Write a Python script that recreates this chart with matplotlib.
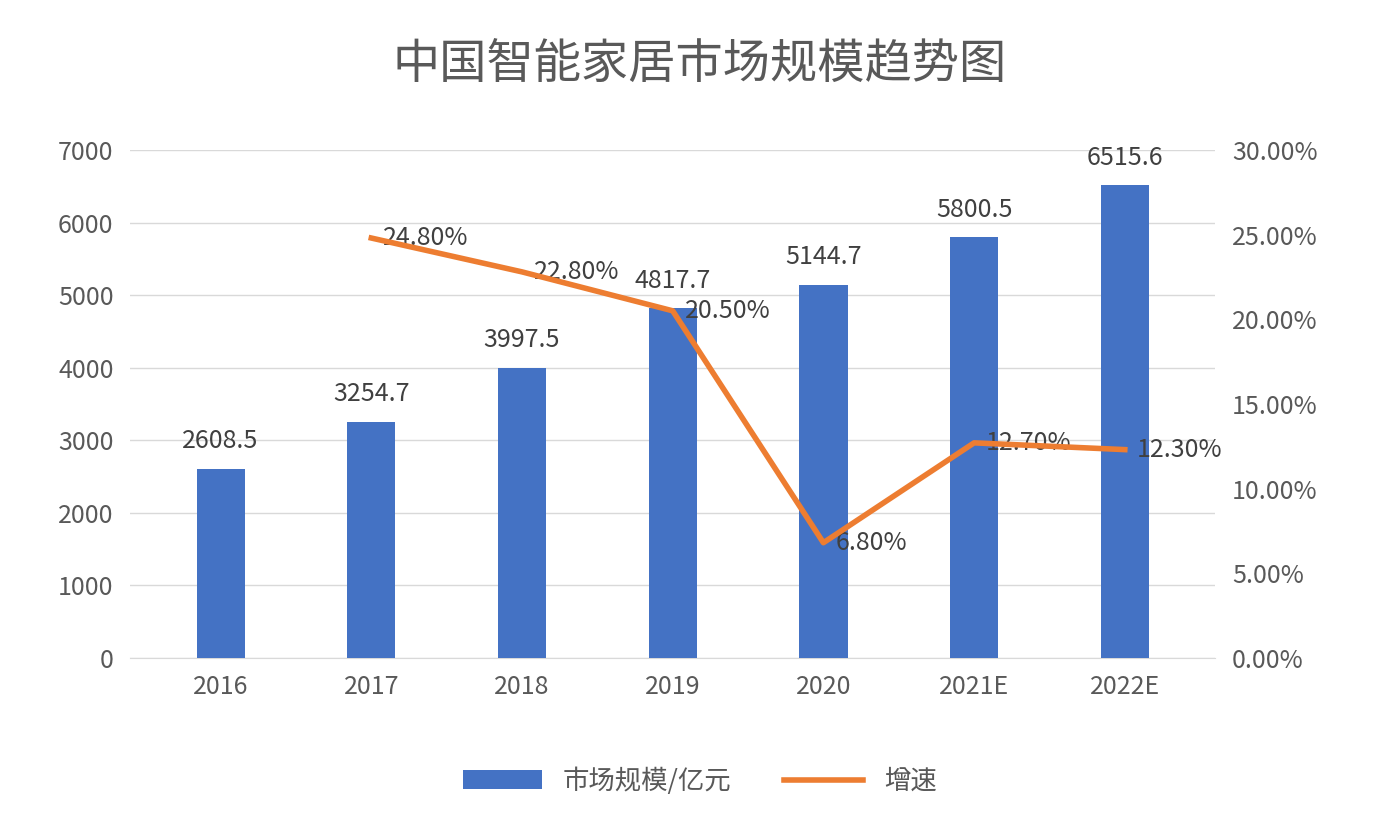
import matplotlib.pyplot as plt
from matplotlib import font_manager
import numpy as np

cjk = [f.name for f in font_manager.fontManager.ttflist if 'CJK' in f.name]
cjk_name = 'Noto Sans CJK SC' if 'Noto Sans CJK SC' in cjk else (cjk[0] if cjk else 'DejaVu Sans')
plt.rcParams['font.family'] = [cjk_name, 'DejaVu Sans']

years = ['2016', '2017', '2018', '2019', '2020', '2021E', '2022E']
market = [2608.5, 3254.7, 3997.5, 4817.7, 5144.7, 5800.5, 6515.6]
growth = [None, 24.80, 22.80, 20.50, 6.80, 12.70, 12.30]

fig = plt.figure(figsize=(14, 8.38), dpi=100)
ax = fig.add_axes([0.093, 0.215, 0.775, 0.606])
ax2 = ax.twinx()

x = np.arange(len(years))
ax.bar(x, market, width=0.32, color='#4472C4', label='市场规模/亿元', zorder=3)
for xi, v in zip(x, market):
    ax.text(xi, v + 200, '%.1f' % v, ha='center', va='bottom', fontsize=18, color='#404040')

gx = x[1:]
gy = growth[1:]
ax2.plot(gx, gy, color='#ED7D31', lw=4, label='增速', zorder=4)
for xi, v in zip(gx, gy):
    ax2.text(xi + 0.08, v, '%.2f%%' % v, ha='left', va='center', fontsize=18, color='#404040')

ax.set_ylim(0, 7000)
ax.set_yticks(range(0, 7001, 1000))
ax2.set_ylim(0, 30)
ax2.set_yticks(np.arange(0, 30.1, 5))
ax2.set_yticklabels(['%.2f%%' % t for t in np.arange(0, 30.1, 5)])
ax.set_xlim(-0.6, 6.6)
ax.set_xticks(x)
ax.set_xticklabels(years)
ax.grid(axis='y', color='#d9d9d9', lw=1, zorder=0)
for a in (ax, ax2):
    for s in a.spines.values():
        s.set_visible(False)
    a.tick_params(length=0, labelsize=18, colors='#595959', pad=12)
ax.spines['bottom'].set_visible(True)
ax.spines['bottom'].set_color('#d9d9d9')

fig.suptitle('中国智能家居市场规模趋势图', y=0.95, fontsize=34, color='#595959')
h1, l1 = ax.get_legend_handles_labels()
h2, l2 = ax2.get_legend_handles_labels()
fig.legend(h1 + h2, l1 + l2, loc='center', bbox_to_anchor=(0.5, 0.068), ncol=2,
           frameon=False, fontsize=19, labelcolor='#595959', handlelength=3, columnspacing=2)
fig.savefig('out.png')
